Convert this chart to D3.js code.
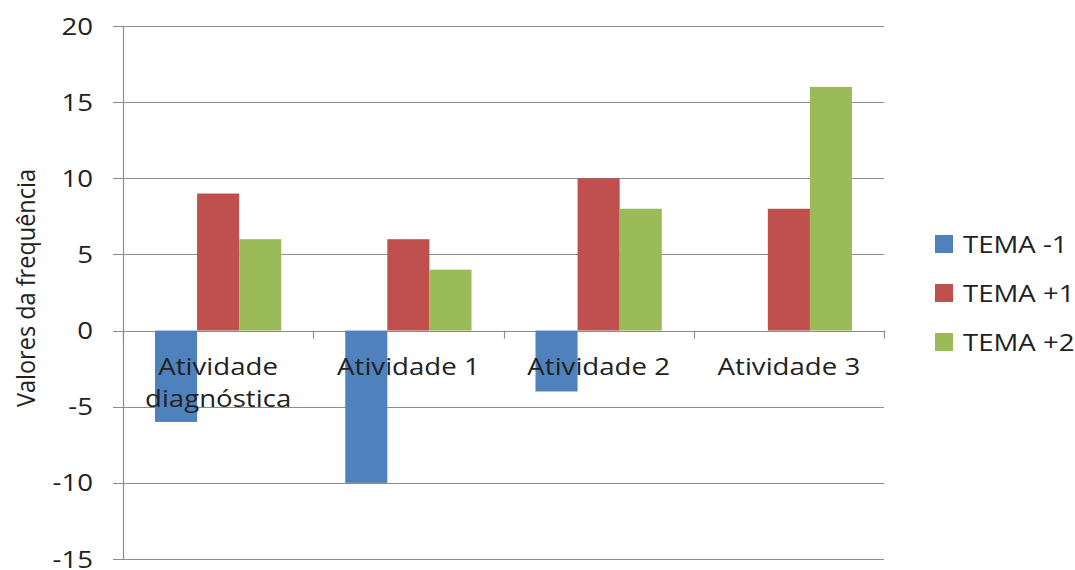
<!DOCTYPE html>
<html>
<head>
<meta charset="utf-8">
<script src="https://cdn.jsdelivr.net/npm/d3@7"></script>
<style>
  html, body { margin: 0; padding: 0; background: #fff; }
  svg { display: block; }
  text { font-family: "Open Sans", sans-serif; fill: #222; }
</style>
</head>
<body>
<svg id="chart" width="1075" height="570"></svg>
<script>
// Activities on the x axis (multi-line labels split by "\n")
const categories = ["Atividade\ndiagnóstica", "Atividade 1", "Atividade 2", "Atividade 3"];
const seriesNames = ["TEMA -1", "TEMA +1", "TEMA +2"];
const temaMenos1 = [-6, -10, -4, 0];
const temaMais1 = [9, 6, 10, 8];
const temaMais2 = [6, 4, 8, 16];
const yTicks = [-15, -10, -5, 0, 5, 10, 15, 20];
const colors = ["#4F81BD", "#C0504D", "#9BBB59"];

const seriesValues = [temaMenos1, temaMais1, temaMais2];

const svg = d3.select("#chart");
const plot = { left: 123, right: 884, top: 26, bottom: 559 };
const FONT = 24;
const WIDEN = 1.15; // horizontal stretch of the label lettering

const y = d3.scaleLinear().domain([-15, 20]).range([plot.bottom, plot.top]);
const x0 = d3.scaleBand().domain(d3.range(categories.length)).range([plot.left, plot.right]).padding(0);
const x1 = d3.scaleBand().domain(d3.range(seriesNames.length))
  .range([0, x0.bandwidth()]).paddingInner(0).paddingOuter(0.76);

// Horizontal gridlines with tick stubs left of the axis
const grid = svg.append("g");
grid.selectAll("line").data(yTicks).join("line")
  .attr("x1", plot.left - 10).attr("x2", plot.right)
  .attr("y1", d => Math.round(y(d)) + 0.5).attr("y2", d => Math.round(y(d)) + 0.5)
  .attr("stroke", "#8c8c8c").attr("stroke-width", 1.2);

// Y tick labels
svg.append("g").selectAll("text").data(yTicks).join("text")
  .attr("transform", d => `translate(93,${y(d)}) scale(${WIDEN},1)`)
  .attr("dy", "0.36em")
  .attr("text-anchor", "end")
  .attr("font-size", FONT)
  .text(d => d);

// Bars
const rows = categories.map((c, i) => seriesValues.map((s, k) => ({ i, k, v: s[i] })));
svg.append("g").selectAll("g").data(rows).join("g")
  .attr("transform", (d, i) => `translate(${x0(i)},0)`)
  .selectAll("rect").data(d => d.filter(e => e.v !== 0)).join("rect")
  .attr("x", d => x1(d.k))
  .attr("width", x1.bandwidth())
  .attr("y", d => y(Math.max(0, d.v)))
  .attr("height", d => Math.abs(y(d.v) - y(0)))
  .attr("fill", d => colors[d.k]);

// Y axis line
svg.append("line")
  .attr("x1", plot.left + 0.5).attr("x2", plot.left + 0.5)
  .attr("y1", plot.top).attr("y2", plot.bottom)
  .attr("stroke", "#8c8c8c").attr("stroke-width", 1.2);

// X axis ticks at category boundaries on the zero line
const bounds = d3.range(categories.length + 1).map(i => plot.left + i * x0.step());
svg.append("g").selectAll("line").data(bounds).join("line")
  .attr("x1", d => Math.round(d) + 0.5).attr("x2", d => Math.round(d) + 0.5)
  .attr("y1", y(0)).attr("y2", y(0) + 8)
  .attr("stroke", "#8c8c8c").attr("stroke-width", 1.2);

// Category labels
const catLabels = svg.append("g").selectAll("text").data(categories).join("text")
  .attr("text-anchor", "middle")
  .attr("font-size", FONT)
  .attr("transform", (d, i) => `translate(${x0(i) + x0.bandwidth() / 2},375) scale(${WIDEN},1)`);
catLabels.selectAll("tspan").data(d => d.split("\n")).join("tspan")
  .attr("x", 0)
  .attr("dy", (d, j) => j === 0 ? 0 : 32)
  .text(d => d);

// Y axis title
svg.append("text")
  .attr("transform", "translate(35,288) rotate(-90) scale(1,1.05)")
  .attr("text-anchor", "middle")
  .attr("font-size", FONT - 0.5)
  .text("Valores da frequência");

// Legend
const legend = svg.append("g").selectAll("g").data(seriesNames).join("g")
  .attr("transform", (d, k) => `translate(935,${244 + k * 49})`);
legend.append("rect")
  .attr("x", 0).attr("y", -9).attr("width", 18).attr("height", 18)
  .attr("fill", (d, k) => colors[k]);
legend.append("text")
  .attr("transform", `translate(28,0) scale(${WIDEN},1)`)
  .attr("dy", "0.36em")
  .attr("font-size", FONT)
  .text(d => d);
</script>
</body>
</html>
